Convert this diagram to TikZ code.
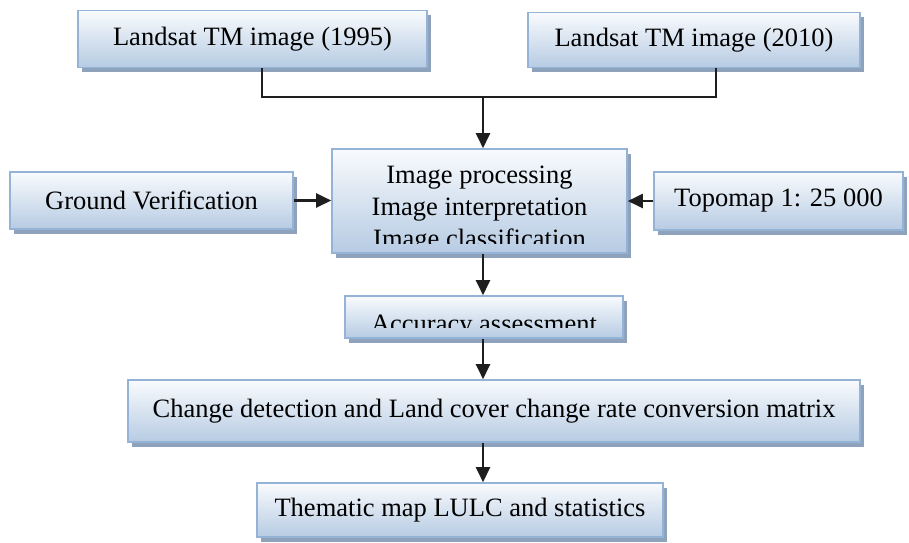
\documentclass[tikz,border=0pt]{standalone}
\usepackage{fontspec}
\setmainfont{Liberation Serif}
\usetikzlibrary{arrows.meta,shadows,calc}
\definecolor{boxline}{HTML}{95B3D7}
\definecolor{boxtop}{HTML}{F9FBFD}
\definecolor{boxbot}{HTML}{B6CBE3}
\definecolor{boxshadow}{HTML}{8EA2BC}
\definecolor{inkc}{HTML}{1E1E1E}
\begin{document}
\begin{tikzpicture}[x=1pt,y=-1pt,
  flowbox/.style={draw=boxline, line width=1.6pt, top color=boxtop, bottom color=boxbot,
    inner sep=0pt, align=center, font=\fontsize{26.5}{32}\selectfont,
    drop shadow={shadow xshift=4pt, shadow yshift=-4.5pt, fill=boxshadow, opacity=1}},
  boxtext/.style={inner sep=0pt, anchor=base, font=\fontsize{26.5}{32}\selectfont},
  link/.style={line width=2.2pt, draw=inkc},
  arr/.style={link, -{Triangle[length=15pt,width=14pt]}}]
\useasboundingbox (0,0) rectangle (909,542);

% input data
\node[flowbox, minimum width=349pt, minimum height=57pt] (l1) at (252.5,39) {Landsat TM image (1995)};
\node[flowbox, minimum width=332pt, minimum height=55pt] (l2) at (694,40) {Landsat TM image (2010)};

% processing block (text runs past the lower edge and is cut off)
\node[flowbox, minimum width=295pt, minimum height=104pt] (ctr) at (479.5,201) {};
\begin{scope}
  \clip (332,149) rectangle (627,243);
  \node[boxtext] (ct1) at (479.5,183) {Image processing};
  \node[boxtext] (ct2) at (479.5,215) {Image interpretation};
  \node[boxtext] (ct3) at (479.5,247) {Image classification};
\end{scope}

% side inputs
\node[flowbox, minimum width=283pt, minimum height=57pt] (gv) at (151.5,200.5) {Ground Verification};
\node[flowbox, minimum width=249pt, minimum height=58pt] (topo) at (778.5,201) {Topomap 1: 25 000};

% accuracy assessment (text cut off as well)
\node[flowbox, minimum width=278pt, minimum height=42pt] (acc) at (484,317) {};
\begin{scope}
  \clip (345,296) rectangle (623,327);
  \node[boxtext] (acct) at (484,332) {Accuracy assessment};
\end{scope}

% outputs
\node[flowbox, minimum width=732pt, minimum height=62pt] (chg) at (494,411) {Change detection and Land cover change rate conversion matrix};
\node[flowbox, minimum width=406pt, minimum height=54pt] (thm) at (460,510) {Thematic map LULC and statistics};

% connectors
\coordinate (j) at (483,97);
\draw[link] ([xshift=9.5pt]l1.south) |- (j) -| ([xshift=22pt]l2.south);
\draw[arr] (j) -- (j |- ctr.north);
\draw[arr] (gv.east) -- (gv.east -| ctr.west);
\draw[arr] (topo.west) -- (topo.west -| ctr.east);
\draw[arr] (ctr.south -| j) -- (acc.north -| j);
\draw[arr] (acc.south -| j) -- (chg.north -| j);
\draw[arr] (chg.south -| j) -- (thm.north -| j);
\end{tikzpicture}
\end{document}
